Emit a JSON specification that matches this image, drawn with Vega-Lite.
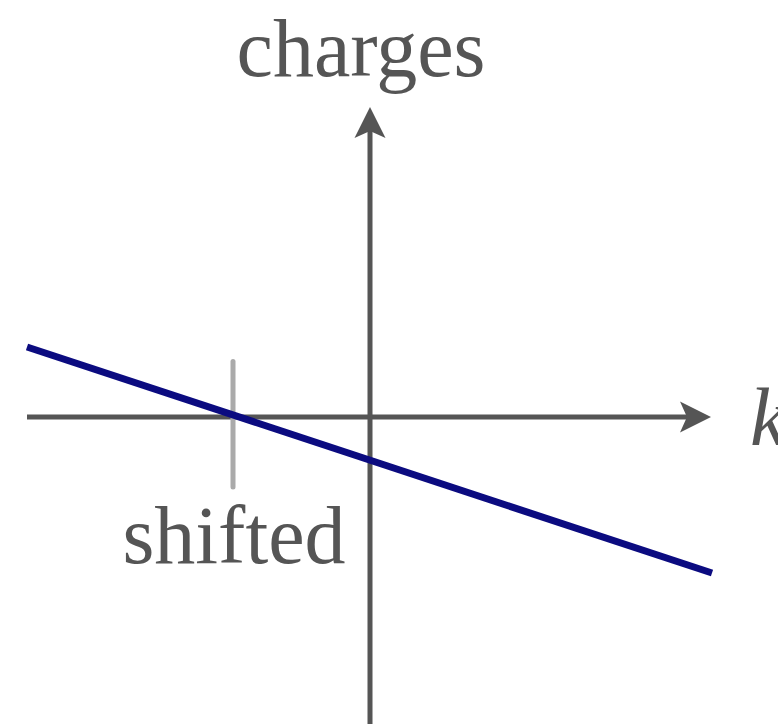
{
  "$schema": "https://vega.github.io/schema/vega-lite/v6.json",
  "width": 778,
  "height": 724,
  "padding": 0,
  "autosize": {"type": "none"},
  "background": "white",
  "config": {"view": {"stroke": null}},
  "encoding": {
    "x": {"type": "quantitative", "scale": {"domain": [-3.7, 4.08], "nice": false, "zero": false}, "axis": null},
    "y": {"type": "quantitative", "scale": {"domain": [-3.07, 4.17], "nice": false, "zero": false}, "axis": null}
  },
  "layer": [
    {
      "data": {"values": [
        {"name": "k axis", "x": -3.43, "y": 0, "x2": 3.25, "y2": 0},
        {"name": "charges axis", "x": 0, "y": -3.1, "x2": 0, "y2": 2.87}
      ]},
      "mark": {"type": "rule", "stroke": "#555555", "strokeWidth": 5, "strokeCap": "butt"},
      "encoding": {
        "x": {"field": "x", "type": "quantitative"},
        "y": {"field": "y", "type": "quantitative"},
        "x2": {"field": "x2"},
        "y2": {"field": "y2"}
      }
    },
    {
      "data": {"values": [{"x": 3.255, "y": 0}]},
      "mark": {"type": "point", "filled": true, "shape": "M1,0 L-1,-1 L-0.55,0 L-1,1 Z", "size": 961, "color": "#555555", "opacity": 1},
      "encoding": {
        "x": {"field": "x", "type": "quantitative"},
        "y": {"field": "y", "type": "quantitative"}
      }
    },
    {
      "data": {"values": [{"x": 0, "y": 2.945}]},
      "mark": {"type": "point", "filled": true, "shape": "M0,-1 L1,1 L0,0.55 L-1,1 Z", "size": 961, "color": "#555555", "opacity": 1},
      "encoding": {
        "x": {"field": "x", "type": "quantitative"},
        "y": {"field": "y", "type": "quantitative"}
      }
    },
    {
      "data": {"values": [{"x": -1.37, "y": 0.555, "y2": -0.70}]},
      "mark": {"type": "rule", "stroke": "#aaaaaa", "strokeWidth": 5, "strokeCap": "round"},
      "encoding": {
        "x": {"field": "x", "type": "quantitative"},
        "y": {"field": "y", "type": "quantitative"},
        "y2": {"field": "y2"}
      }
    },
    {
      "data": {"values": [
        {"x": -3.43, "y": 0.70},
        {"x": 3.42, "y": -1.56}
      ]},
      "mark": {"type": "line", "stroke": "#0b0b80", "strokeWidth": 7, "strokeCap": "butt"},
      "encoding": {
        "x": {"field": "x", "type": "quantitative"},
        "y": {"field": "y", "type": "quantitative"}
      }
    },
    {
      "data": {"values": [
        {"label": "charges", "x": -0.09, "y": 3.41},
        {"label": "shifted", "x": -1.36, "y": -1.46}
      ]},
      "mark": {"type": "text", "font": "Liberation Serif", "fontSize": 82, "color": "#555555", "align": "center", "baseline": "alphabetic"},
      "encoding": {
        "x": {"field": "x", "type": "quantitative"},
        "y": {"field": "y", "type": "quantitative"},
        "text": {"field": "label"}
      }
    },
    {
      "data": {"values": [{"label": "k", "x": 3.8, "y": -0.28}]},
      "mark": {"type": "text", "font": "Liberation Serif", "fontSize": 82, "fontStyle": "italic", "color": "#555555", "align": "left", "baseline": "alphabetic"},
      "encoding": {
        "x": {"field": "x", "type": "quantitative"},
        "y": {"field": "y", "type": "quantitative"},
        "text": {"field": "label"}
      }
    }
  ]
}
